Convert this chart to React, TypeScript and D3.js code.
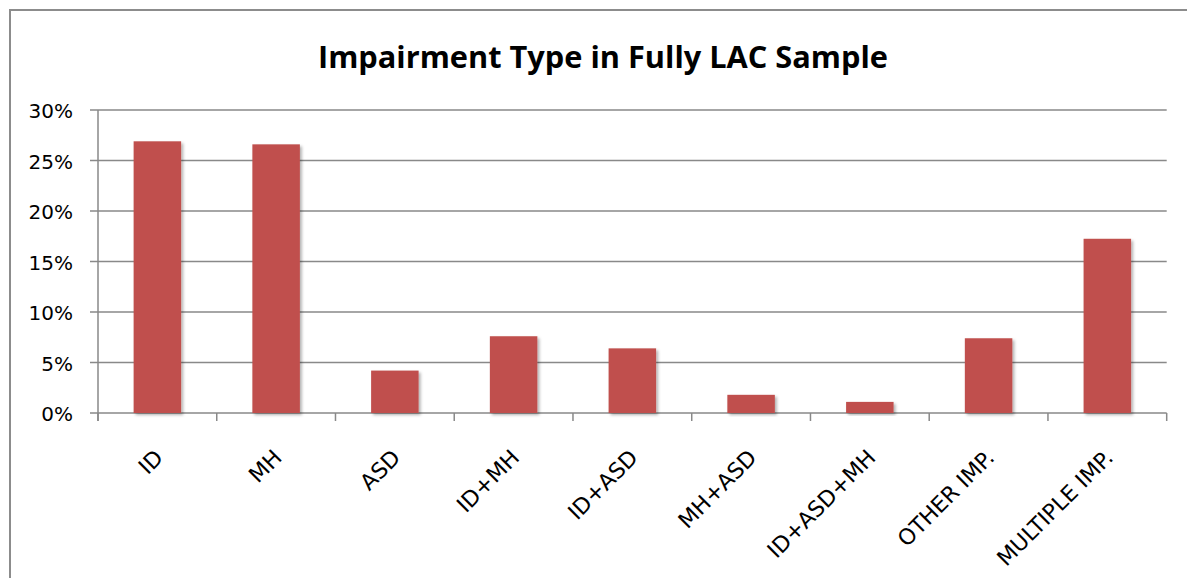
import React from 'react';
import * as d3 from 'd3';

const categories = ['ID', 'MH', 'ASD', 'ID+MH', 'ID+ASD', 'MH+ASD', 'ID+ASD+MH', 'OTHER IMP.', 'MULTIPLE IMP.'];
const values = [26.9, 26.6, 4.2, 7.6, 6.4, 1.8, 1.1, 7.4, 17.25];
const yTicks = [0, 5, 10, 15, 20, 25, 30];
const title = 'Impairment Type in Fully LAC Sample';

const W = 1187;
const H = 578;
const margin = { top: 110, right: 20.3, bottom: 165, left: 98 };
const barColor = '#C0504D';
const gridColor = '#898989';

const App = () => {
  const x = d3.scaleBand<string>()
    .domain(categories)
    .range([margin.left, W - margin.right])
    .paddingInner(0.6)
    .paddingOuter(0.3);

  const y = d3.scaleLinear()
    .domain([0, 30])
    .range([H - margin.bottom, margin.top]);

  const step = x.step();
  const y0 = y(0);
  const boundaries = d3.range(categories.length + 1).map(i => margin.left + i * step);

  return (
    <svg width={W} height={H} style={{ position: 'absolute', left: 0, top: 0, background: '#fff' }}>
      <defs>
        <filter id="shadow" x="-20%" y="-20%" width="140%" height="140%">
          <feDropShadow dx="2" dy="2" stdDeviation="1.5" floodColor="#000" floodOpacity="0.3" />
        </filter>
      </defs>
      <rect x={0} y={0} width={W} height={H} fill="#fff" />
      {/* chart border */}
      <rect x={10} y={10} width={W + 20} height={H + 20} fill="none" stroke="#8c8c8c" strokeWidth={2} />

      <text x={603} y={68} textAnchor="middle" fontFamily="'Open Sans', sans-serif" fontWeight="bold"
        fontSize={30} textLength={570} lengthAdjust="spacingAndGlyphs" fill="#000">{title}</text>

      {/* gridlines + y ticks */}
      {yTicks.map(t => (
        <g key={t}>
          <line x1={margin.left - 8} x2={W - margin.right} y1={y(t)} y2={y(t)} stroke={gridColor} strokeWidth={1.5} />
          <text x={73} y={y(t)} dy="0.42em" textAnchor="end" fontFamily="'DejaVu Sans', sans-serif"
            fontSize={20} fill="#000">{`${t}%`}</text>
        </g>
      ))}
      <line x1={margin.left} x2={margin.left} y1={y(30)} y2={y0 + 8} stroke={gridColor} strokeWidth={1.5} />

      {/* x ticks */}
      {boundaries.map((b, i) => (
        <line key={i} x1={b} x2={b} y1={y0} y2={y0 + 8} stroke={gridColor} strokeWidth={1.5} />
      ))}

      {/* bars */}
      {categories.map((c, i) => (
        <rect key={c} x={x(c)} y={y(values[i])} width={x.bandwidth()} height={y0 - y(values[i])}
          fill={barColor} filter="url(#shadow)" />
      ))}

      {/* category labels */}
      {categories.map(c => {
        const cx = (x(c) as number) + x.bandwidth() / 2;
        return (
          <text key={c} transform={`translate(${cx + 7},${y0 + 46}) rotate(-45)`} textAnchor="end"
            fontFamily="'DejaVu Sans', sans-serif" fontSize={22} fill="#000">{c}</text>
        );
      })}
    </svg>
  );
};

export default App;
